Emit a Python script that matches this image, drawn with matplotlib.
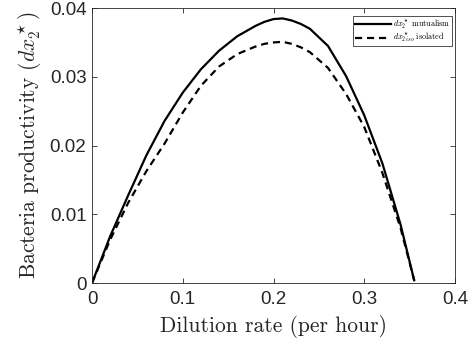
import matplotlib
matplotlib.use("Agg")
import matplotlib.pyplot as plt

dilution = [0, 0.02, 0.04, 0.06, 0.08, 0.10, 0.12, 0.14, 0.16, 0.18, 0.19,
            0.20, 0.21, 0.22, 0.23, 0.24, 0.26, 0.28, 0.30, 0.32, 0.34, 0.355]
prod_mutualism = [0, 0.0068, 0.0128, 0.0186, 0.0236, 0.0277, 0.0311, 0.0338,
                  0.0359, 0.0374, 0.0380, 0.0384, 0.0385, 0.0382, 0.0377,
                  0.0370, 0.0345, 0.0301, 0.0244, 0.0174, 0.0085, 0.0004]
prod_isolated = [0, 0.0063, 0.0117, 0.0163, 0.0203, 0.0248, 0.0287, 0.0315,
                 0.0333, 0.0344, 0.0348, 0.0350, 0.0351, 0.0348, 0.0343,
                 0.0336, 0.0313, 0.0275, 0.0227, 0.0160, 0.0080, 0.0004]
xticks = [0, 0.1, 0.2, 0.3, 0.4]
yticks = [0, 0.01, 0.02, 0.03, 0.04]
xticklabels = ["0", "0.1", "0.2", "0.3", "0.4"]
yticklabels = ["0", "0.01", "0.02", "0.03", "0.04"]

plt.rcParams['mathtext.fontset'] = 'cm'
plt.rcParams['font.family'] = ['Liberation Sans', 'DejaVu Sans']

fig = plt.figure(figsize=(4.76, 3.52), dpi=100)
ax = fig.add_axes([0.1933, 0.196, 0.7626, 0.781])

ax.plot(dilution, prod_mutualism, color='black', lw=1.6, ls='-',
        label=r'$dx_2^\star$ mutualism')
ax.plot(dilution, prod_isolated, color='black', lw=1.6, ls=(0, (3.2, 2.2)),
        label=r'$dx_{2\,iso}^\star$ isolated')

ax.set_xlim(0, 0.4)
ax.set_ylim(0, 0.04)
ax.set_xticks(xticks)
ax.set_xticklabels(xticklabels)
ax.set_yticks(yticks)
ax.set_yticklabels(yticklabels)
ax.tick_params(direction='in', top=True, right=True, labelsize=13.5,
               length=3.5, width=0.6, colors='#262626', pad=4)
ax.tick_params(axis='x', pad=6)
for s in ax.spines.values():
    s.set_color('#262626')
    s.set_linewidth(0.6)

lab_font = dict(family='cmr10', size=15.5, color='#262626')
ax.set_xlabel(r'Dilution rate (per hour)', fontdict=lab_font, labelpad=5)
ax.set_ylabel(r'Bacteria productivity ($dx_2^\star$)', fontdict=lab_font,
              labelpad=4)

leg = ax.legend(loc='upper right', bbox_to_anchor=(0.997, 0.978),
                prop=dict(family='cmr10', size=5.8),
                frameon=True, fancybox=False, edgecolor='black',
                handlelength=4.5, borderpad=0.2, labelspacing=0.0,
                handletextpad=0.3, borderaxespad=0.2)
leg.get_frame().set_linewidth(0.6)

fig.savefig('out.png', dpi=100)
